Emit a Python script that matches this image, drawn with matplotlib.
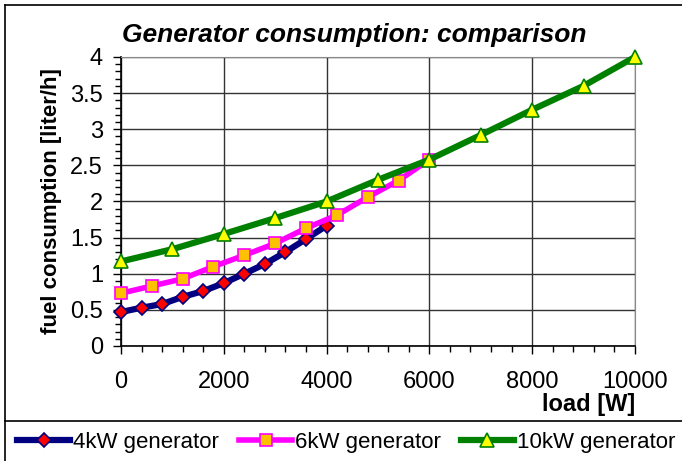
import numpy as np
import matplotlib.pyplot as plt
from matplotlib.lines import Line2D
from matplotlib.ticker import MultipleLocator

plt.rcParams['font.family'] = ['Liberation Sans', 'DejaVu Sans']

# data
load_4kw = [0, 400, 800, 1200, 1600, 2000, 2400, 2800, 3200, 3600, 4000]
fuel_4kw = [0.47, 0.53, 0.58, 0.68, 0.76, 0.87, 1.0, 1.135, 1.30, 1.48, 1.665]

load_6kw = [0, 600, 1200, 1800, 2400, 3000, 3600, 4200, 4800, 5400, 6000]
fuel_6kw = [0.73, 0.83, 0.93, 1.10, 1.255, 1.42, 1.63, 1.81, 2.06, 2.29, 2.58]

load_10kw = [0, 1000, 2000, 3000, 4000, 5000, 6000, 7000, 8000, 9000, 10000]
fuel_10kw = [1.17, 1.34, 1.55, 1.77, 2.0, 2.30, 2.58, 2.92, 3.27, 3.60, 4.0]

fig = plt.figure(figsize=(6.82, 4.61), dpi=100)
ax = fig.add_axes([0.1774, 0.2495, 0.931 - 0.1774, 0.8764 - 0.2495])

ax.plot(load_4kw, fuel_4kw, color='#000080', lw=4.5, marker='D', ms=7,
        mfc='#FF0000', mec='#000080', mew=1.2, label='4kW generator', zorder=3, clip_on=False)
ax.plot(load_6kw, fuel_6kw, color='#FF00FF', lw=4, marker='s', ms=8,
        mfc='#FFC000', mec='#FF00FF', mew=1.2, label='6kW generator', zorder=3, clip_on=False)
ax.plot(load_10kw, fuel_10kw, color='#008000', lw=4.5, marker='^', ms=10,
        mfc='#FFFF00', mec='#008000', mew=1.2, label='10kW generator', zorder=3, clip_on=False)

ax.set_xlim(0, 10000)
ax.set_ylim(0, 4)
ax.xaxis.set_major_locator(MultipleLocator(2000))
ax.xaxis.set_minor_locator(MultipleLocator(400))
ax.yaxis.set_minor_locator(MultipleLocator(0.1))
ax.set_yticks([0, 0.5, 1, 1.5, 2, 2.5, 3, 3.5, 4])
ax.set_yticklabels(['0', '0.5', '1', '1.5', '2', '2.5', '3', '3.5', '4'])

ax.grid(True, which='major', color='#333333', lw=1)
ax.set_axisbelow(True)
ax.tick_params(which='major', direction='out', length=6, width=1, labelsize=17, color='black')
ax.tick_params(axis='y', which='major', pad=7)
ax.tick_params(axis='x', which='major', pad=12)
ax.tick_params(which='minor', direction='out', length=4, width=1, color='black')
for s in ['top', 'right']:
    ax.spines[s].set_color('#888888')
for s in ['left', 'bottom']:
    ax.spines[s].set_color('black')
    ax.spines[s].set_linewidth(1.2)

fig.text(354.5 / 682, 1 - 42 / 461, 'Generator consumption: comparison', fontsize=19,
         fontweight='bold', fontstyle='italic', ha='center', va='baseline')
ax.set_ylabel('fuel consumption [liter/h]', fontsize=16, fontweight='bold', labelpad=6)
ax.set_xlabel('load [W]', fontsize=17, fontweight='bold', loc='right', labelpad=0)

# outer frame and legend separator
fig.add_artist(Line2D([5 / 682, 5 / 682], [0, 1 - 5 / 461], color='black', lw=1.2))
fig.add_artist(Line2D([5 / 682, 1], [1 - 5 / 461, 1 - 5 / 461], color='black', lw=1.2))
fig.add_artist(Line2D([5 / 682, 1], [1 - 421 / 461, 1 - 421 / 461], color='black', lw=1.2))

handles, labels = ax.get_legend_handles_labels()
fig.legend(handles, labels, loc='center left', bbox_to_anchor=(17 / 682, 1 - 442 / 461),
           ncol=3, frameon=False, fontsize=16, handlelength=2.4, handletextpad=0.12,
           columnspacing=0.9, borderaxespad=0, borderpad=0)

fig.savefig('out.png', dpi=100)
